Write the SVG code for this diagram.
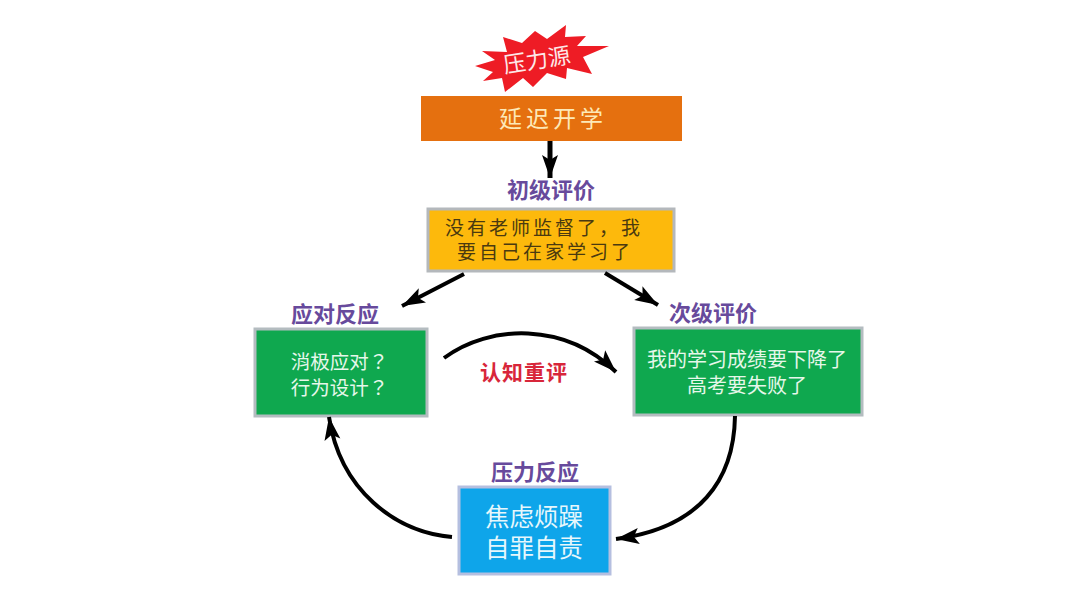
<svg xmlns="http://www.w3.org/2000/svg" width="1080" height="607" viewBox="0 0 1080 607">
<style>
text{font-family:"Noto Sans CJK SC",sans-serif;text-anchor:middle}
.lab{font-size:22px;font-weight:700;fill:#674a9c}
.g{fill:#0fa84f;stroke:#b4bcc0;stroke-width:3}
.w{fill:#e6f7ea;font-size:20px}
.q{font-family:"Noto Sans CJK TC",sans-serif;font-size:19.5px}
.k{fill:#4a3a10;font-size:19px;letter-spacing:3px}
.c{fill:none;stroke:#000;stroke-width:4}
</style>
<defs>
<marker id="a" markerUnits="userSpaceOnUse" markerWidth="24" markerHeight="18" refX="23" refY="9" orient="auto"><path d="M0 1L23 9L0 17L5 9Z" fill="#000"/></marker>
</defs>
<rect width="1080" height="607" fill="#fff"/>
<g id="stressor">
<polygon points="475,66 495,60 482,51 507,52 503,37 522,43 535,31 547,39 566,25 565,37 586,36 577,46 609,46 583,57 592,74 567,68 566,79 547,73 533,87 523,78 505,92 502,78 483,81 493,72" fill="#ee1c25"/>
<text x="537" y="68" transform="rotate(-9 537 61)" font-size="22.5" fill="#fde8e8">压力源</text>
</g>
<g id="delay">
<rect x="421" y="96" width="261" height="45" fill="#e5700f"/>
<text x="553" y="127" font-size="23" fill="#fde9b8" letter-spacing="4">延迟开学</text>
</g>
<g id="primary">
<text class="lab" x="551" y="198">初级评价</text>
<rect x="428" y="209" width="246" height="62" fill="#fdb90c" stroke="#b4b8bc" stroke-width="3"/>
<text class="k" x="544" y="235">没有老师监督了，我</text>
<text class="k" x="545" y="259">要自己在家学习了</text>
</g>
<g id="coping">
<text class="lab" x="335" y="322">应对反应</text>
<rect class="g" x="255" y="329" width="172" height="87"/>
<text class="w q" x="339.500" y="369">消极应对？</text>
<text class="w q" x="339.500" y="395">行为设计？</text>
</g>
<g id="secondary">
<text class="lab" x="713" y="321">次级评价</text>
<rect class="g" x="634" y="328" width="228" height="87"/>
<text class="w" x="747" y="367">我的学习成绩要下降了</text>
<text class="w" x="747" y="393">高考要失败了</text>
</g>
<g id="reappraisal">
<text x="524" y="380" font-size="21" letter-spacing="1" font-weight="700" fill="#d8263a">认知重评</text>
</g>
<g id="stress">
<text class="lab" x="535" y="480">压力反应</text>
<rect x="459" y="487" width="151" height="87" fill="#0ea5ea" stroke="#b5bfe0" stroke-width="3"/>
<text x="534" y="525.500" font-size="24.500" fill="#e6f7fc">焦虑烦躁</text>
<text x="534" y="557" font-size="24.500" fill="#e6f7fc">自罪自责</text>
</g>
<g id="connectors">
<path class="c" d="M550 141V178" marker-end="url(#a)" style="stroke-width:5"/>
<path class="c" d="M464 274L402 306" marker-end="url(#a)"/>
<path class="c" d="M605 273L658 305" marker-end="url(#a)"/>
<path class="c" d="M444 358C490 324 565 322 616 372" marker-end="url(#a)"/>
<path class="c" d="M735 416C734 480 700 528 616 539" marker-end="url(#a)"/>
<path class="c" d="M452 537C395 532 340 490 329 417" marker-end="url(#a)"/>
</g>
</svg>
